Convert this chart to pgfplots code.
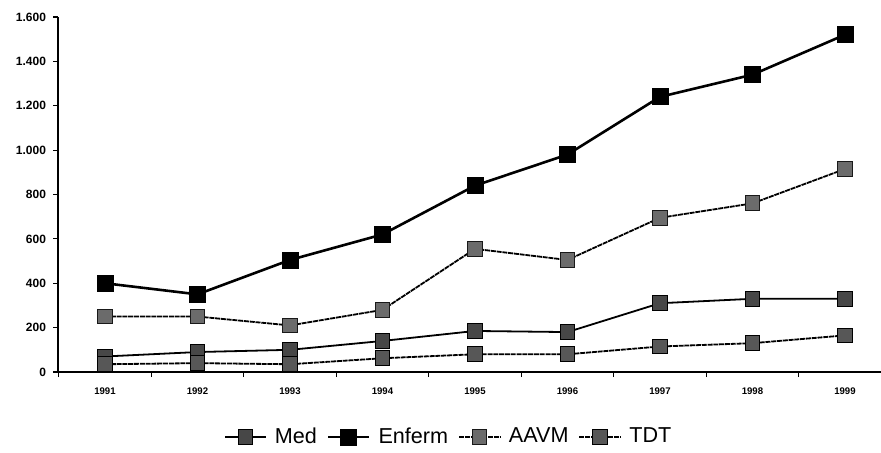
\documentclass[border=0pt]{standalone}
\usepackage{fontspec}
\setmainfont{Liberation Sans}
\usepackage{pgfplots}
\pgfplotsset{compat=1.18}
\begin{document}
\begin{tikzpicture}
\useasboundingbox (0,0) rectangle (440.5pt,226pt);
\begin{axis}[
  at={(29pt,40pt)}, anchor=south west,
  scale only axis, width=411.5pt, height=177.5pt,
  xmin=-0.508, xmax=8.39, ymin=0, ymax=1600,
  axis x line*=bottom, axis y line*=left,
  axis line style={line width=0.8pt},
  xtick={0,...,8},
  xticklabels={1991,1992,1993,1994,1995,1996,1997,1998,1999},
  major x tick style={draw=none},
  minor xtick={-0.5,0.5,1.5,2.5,3.5,4.5,5.5,6.5,7.5},
  minor tick length=2.5pt,
  minor x tick style={line width=0.6pt, black},
  xtick pos=bottom, ytick pos=left,
  tick align=outside,
  ytick={0,200,...,1600},
  yticklabels={0,200,400,600,800,1.000,1.200,1.400,1.600},
  major tick length=2.5pt,
  y tick style={line width=0.6pt, black},
  x tick label style={font=\fontsize{4.8}{5}\selectfont\bfseries, yshift=-2pt},
  y tick label style={font=\fontsize{6}{6}\selectfont\bfseries},
  clip=false,
  legend columns=4,
  legend style={at={(0.476,-0.183)}, anchor=center, draw=none,
    font=\fontsize{10.8}{11}\selectfont, column sep=2pt,
    /tikz/every even column/.append style={column sep=3pt}},
  legend image code/.code={
    \draw[#1] (0cm,0cm) -- (0.72cm,0cm);
    \draw[#1, only marks] plot coordinates {(0.36cm,0cm)};
  },
]
\addplot[black, line width=0.9pt, mark=square*, mark size=3.7pt,
  mark options={solid, fill=black!72, draw=black, line width=0.5pt}]
  coordinates {(0,70) (1,90) (2,100) (3,140) (4,185) (5,180) (6,310) (7,330) (8,330)};
\addlegendentry{Med}
\addplot[black, line width=1.3pt, mark=square*, mark size=4pt,
  mark options={solid, fill=black, draw=black, line width=0.4pt}]
  coordinates {(0,400) (1,350) (2,505) (3,620) (4,840) (5,980) (6,1240) (7,1340) (8,1520)};
\addlegendentry{Enferm}
\addplot[black, line width=0.9pt, dash pattern=on 2.5pt off 0.4pt, mark=square*, mark size=3.7pt,
  mark options={solid, fill=black!58, draw=black!90, line width=0.5pt}]
  coordinates {(0,250) (1,250) (2,210) (3,280) (4,555) (5,505) (6,695) (7,760) (8,915)};
\addlegendentry{AAVM}
\addplot[black, line width=0.9pt, dash pattern=on 2.5pt off 0.4pt, mark=square*, mark size=3.7pt,
  mark options={solid, fill=black!66, draw=black, line width=0.5pt}]
  coordinates {(0,35) (1,40) (2,35) (3,62) (4,80) (5,80) (6,115) (7,130) (8,165)};
\addlegendentry{TDT}
\end{axis}
\end{tikzpicture}
\end{document}
